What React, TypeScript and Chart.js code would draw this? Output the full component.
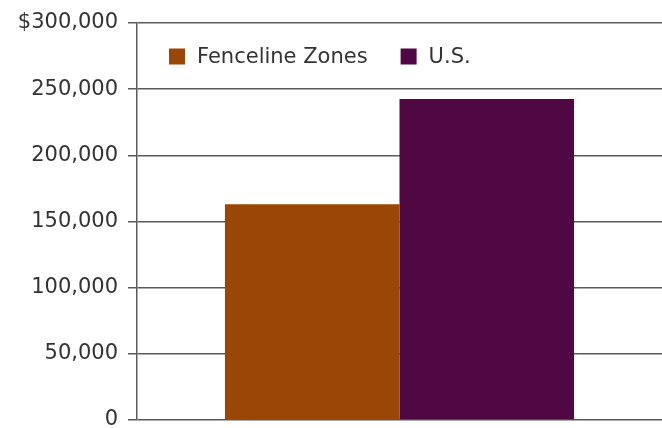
import React, { useEffect, useRef } from "react";
import { Chart, registerables } from "chart.js";

Chart.register(...registerables);

const categories: string[] = [""];
const seriesNames: string[] = ["Fenceline Zones", "U.S."];
const fencelineValues: number[] = [163000];
const usValues: number[] = [242500];
const seriesColors: string[] = ["#9A4606", "#500842"];
const yTickLabels: string[] = ["0", "50,000", "100,000", "150,000", "200,000", "250,000", "$300,000"];

const FONT = "'DejaVu Sans', sans-serif";
const TEXT_COLOR = "#333333";
const LINE_COLOR = "#5a5a5a";

const insideLegend = {
  id: "insideLegend",
  afterDraw(chart: any) {
    const ctx = chart.ctx as CanvasRenderingContext2D;
    const area = chart.chartArea;
    const box = 16;
    let x = area.left + 32;
    const yMid = area.top + 33.5;
    ctx.save();
    ctx.font = `21px ${FONT}`;
    ctx.textBaseline = "middle";
    ctx.textAlign = "left";
    chart.data.datasets.forEach((ds: any) => {
      ctx.fillStyle = ds.backgroundColor;
      ctx.fillRect(x, yMid - box / 2, box, box);
      x += box + 12;
      ctx.fillStyle = TEXT_COLOR;
      ctx.fillText(ds.label, x, yMid + 1);
      x += ctx.measureText(ds.label).width + 33;
    });
    ctx.restore();
  },
};

export default function App() {
  const canvasRef = useRef<HTMLCanvasElement | null>(null);

  useEffect(() => {
    const canvas = canvasRef.current;
    if (!canvas) return;
    const chart = new Chart(canvas, {
      type: "bar",
      data: {
        labels: categories,
        datasets: [
          {
            label: seriesNames[0],
            data: fencelineValues,
            backgroundColor: seriesColors[0],
            borderWidth: 0,
          },
          {
            label: seriesNames[1],
            data: usValues,
            backgroundColor: seriesColors[1],
            borderWidth: 0,
          },
        ],
      },
      options: {
        animation: false,
        responsive: false,
        devicePixelRatio: 1,
        layout: { padding: { top: 23, bottom: 8, left: 0, right: 0 } },
        datasets: {
          bar: { categoryPercentage: 0.665, barPercentage: 1 },
        },
        plugins: {
          legend: { display: false },
          tooltip: { enabled: false },
        },
        scales: {
          x: { display: false },
          y: {
            min: 0,
            max: 300000,
            afterFit: (scale: any) => {
              scale.width = 137;
              scale.paddingTop = 0;
              scale.paddingBottom = 0;
            },
            ticks: {
              stepSize: 50000,
              padding: 10,
              color: TEXT_COLOR,
              font: { family: FONT, size: 21 },
              callback: (_v: any, i: number) => yTickLabels[i],
            },
            grid: {
              color: LINE_COLOR,
              lineWidth: 1.5,
              drawTicks: true,
              tickLength: 9,
              tickColor: LINE_COLOR,
            },
            border: { display: true, color: LINE_COLOR, width: 1.5 },
          },
        },
      },
      plugins: [insideLegend],
    });
    return () => chart.destroy();
  }, []);

  return (
    <div
      style={{
        position: "fixed",
        left: 0,
        top: 0,
        width: 662,
        height: 428,
        overflow: "hidden",
        background: "#ffffff",
      }}
    >
      <canvas ref={canvasRef} width={662} height={428} style={{ display: "block" }} />
    </div>
  );
}
